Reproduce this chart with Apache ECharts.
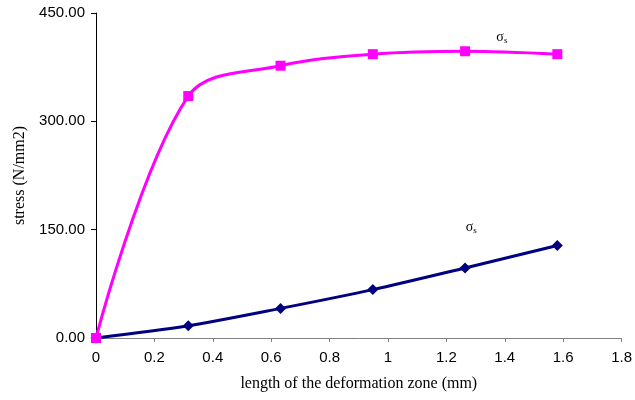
<!DOCTYPE html>
<html><head><meta charset="utf-8">
<script src="https://cdn.jsdelivr.net/npm/echarts@6/dist/echarts.min.js"></script>
<style>html,body{margin:0;padding:0;background:#fff}#c{width:635px;height:400px}</style>
</head><body><div id="c"></div>
<script>
const xValues = [0, 0.316, 0.632, 0.948, 1.264, 1.58];
const upperStress = [0, 335, 377, 393, 397, 393];
const lowerStress = [0, 17, 41, 67, 97, 128];
const xTicks = [0, 0.2, 0.4, 0.6, 0.8, 1, 1.2, 1.4, 1.6, 1.8];
const yTicks = [0, 150, 300, 450];
const seriesLabel = 'σ';
const seriesSub = 's';

const chart = echarts.init(document.getElementById('c'), null, {renderer: 'canvas'});
const sigmaRich = {
  s: {fontFamily: 'Liberation Serif', fontSize: 14, color: '#000'},
  b: {fontFamily: 'Liberation Serif', fontSize: 9, color: '#000', padding: [7, 0, 0, 0]}
};
chart.setOption({
  animation: false,
  grid: {left: 96, right: 12, top: 13, bottom: 62, containLabel: false},
  xAxis: {
    type: 'value', min: 0, max: 1.8, interval: 0.2,
    name: 'length of the deformation zone (mm)', nameLocation: 'middle', nameGap: 38,
    nameTextStyle: {fontFamily: 'Liberation Serif', fontSize: 16, color: '#000'},
    axisLine: {show: true, lineStyle: {color: '#808080', width: 1}},
    axisTick: {show: true, inside: false, length: 4, lineStyle: {color: '#808080'}},
    splitLine: {show: false},
    axisLabel: {fontFamily: 'Liberation Sans', fontSize: 15, color: '#000', margin: 12,
      formatter: v => String(+v.toFixed(1))}
  },
  yAxis: {
    type: 'value', min: 0, max: 450, interval: 150,
    name: 'stress (N/mm2)', nameLocation: 'middle', nameGap: 68, nameRotate: 90,
    nameTextStyle: {fontFamily: 'Liberation Serif', fontSize: 16, color: '#000'},
    axisLine: {show: true, lineStyle: {color: '#000', width: 1}},
    axisTick: {show: true, inside: false, length: 5, lineStyle: {color: '#000'}},
    splitLine: {show: false},
    axisLabel: {fontFamily: 'Liberation Sans', fontSize: 15, color: '#000', margin: 11,
      formatter: v => v.toFixed(2)}
  },
  series: [
    {
      type: 'line', data: xValues.map((x, i) => [x, lowerStress[i]]),
      smooth: 0.3, symbol: 'diamond', symbolSize: 11,
      lineStyle: {color: '#000080', width: 3}, itemStyle: {color: '#000080'},
      markPoint: {symbol: 'circle', symbolSize: 0, data: [{coord: [1.285, 128], value: ''}],
        label: {show: true, formatter: '{s|' + seriesLabel + '}{b|' + seriesSub + '}', rich: sigmaRich, offset: [0, -18]}},
      z: 3
    },
    {
      type: 'line', data: xValues.map((x, i) => [x, upperStress[i]]),
      smooth: 0.35, symbol: 'rect', symbolSize: 10,
      lineStyle: {color: '#FF00FF', width: 3}, itemStyle: {color: '#FF00FF'},
      markPoint: {symbol: 'circle', symbolSize: 0, data: [{coord: [1.39, 410], value: ''}],
        label: {show: true, formatter: '{s|' + seriesLabel + '}{b|' + seriesSub + '}', rich: sigmaRich, offset: [0, -5]}},
      z: 4
    }
  ]
});
</script></body></html>
